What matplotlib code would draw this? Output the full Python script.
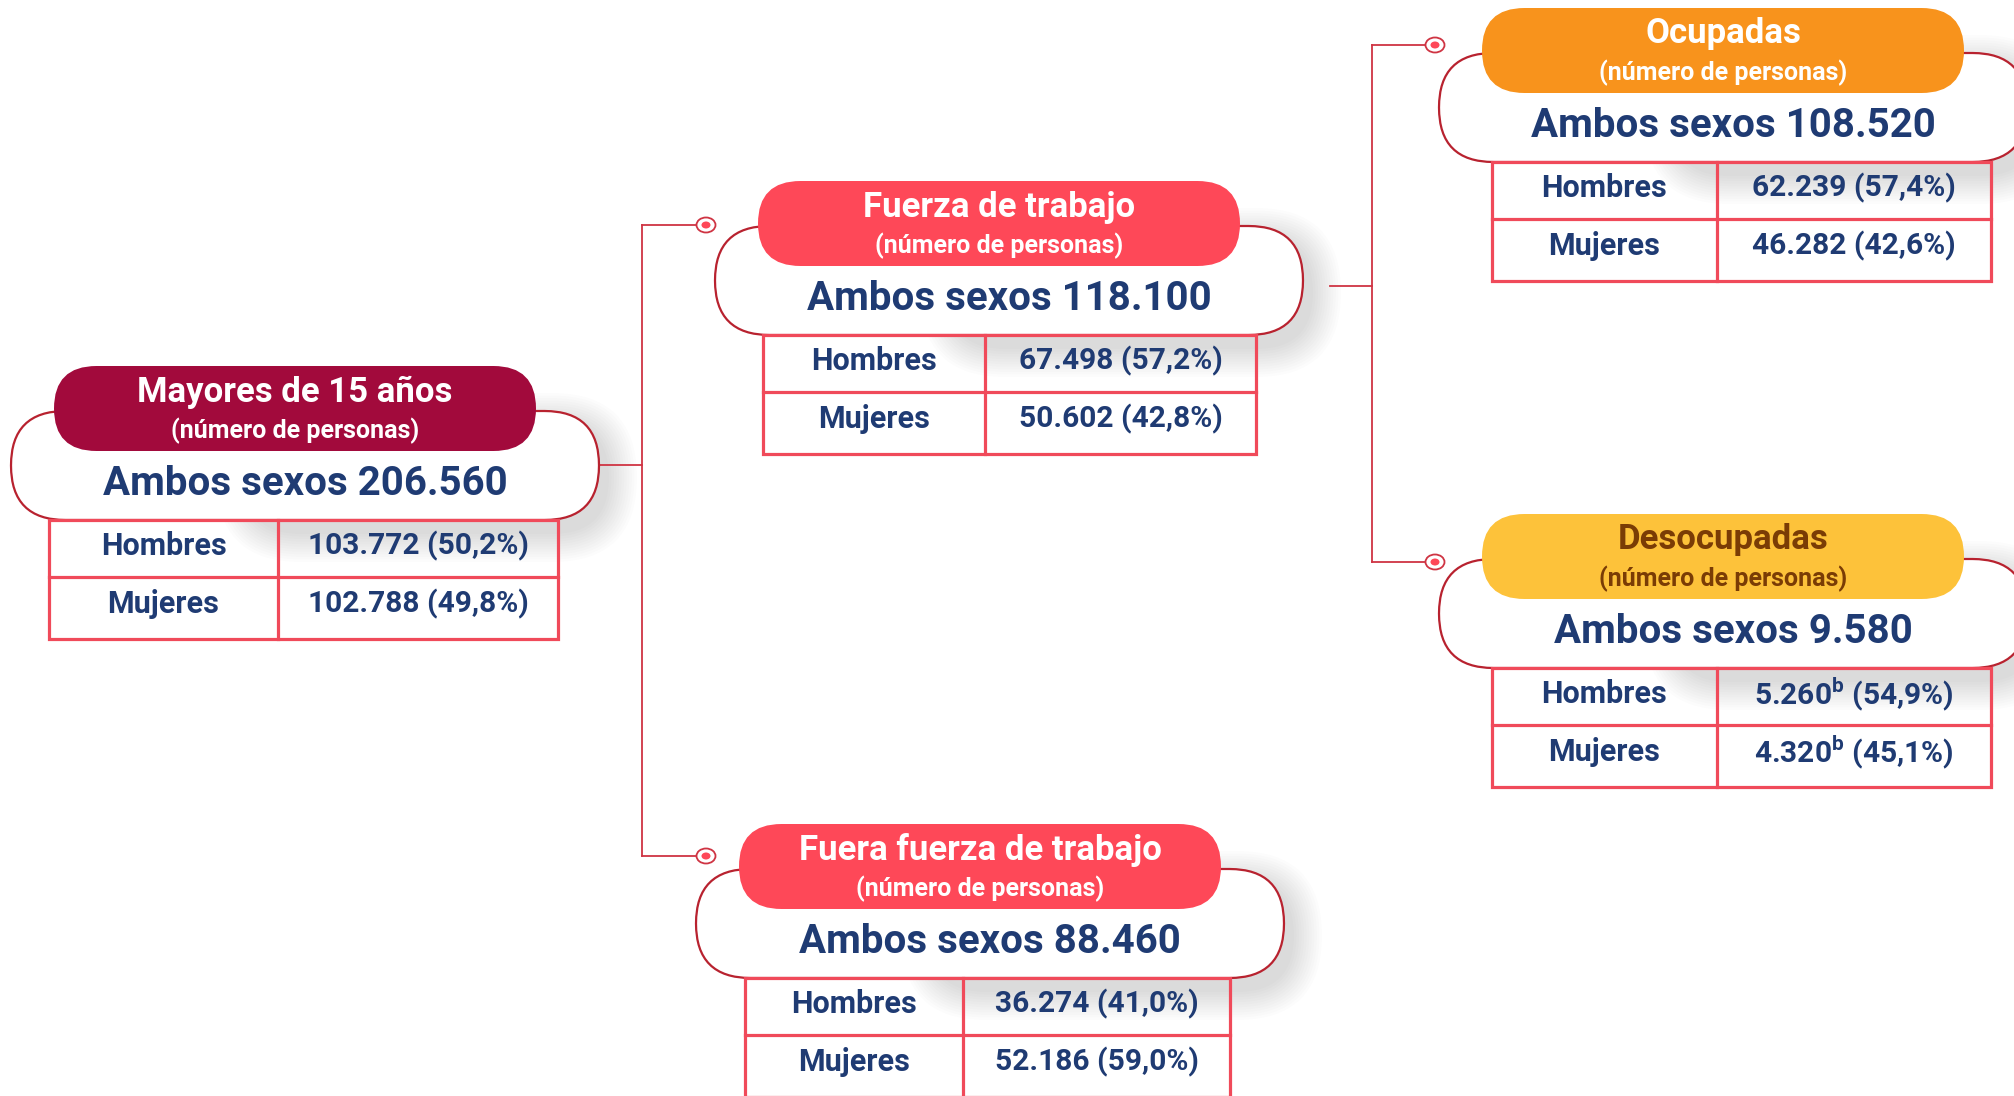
import numpy as np
import matplotlib.pyplot as plt
from matplotlib.patches import FancyBboxPatch, Rectangle, Ellipse

plt.rcParams['font.family'] = ['Roboto', 'DejaVu Sans']
plt.rcParams['mathtext.fontset'] = 'custom'
plt.rcParams['mathtext.rm'] = 'Roboto'
plt.rcParams['mathtext.bf'] = 'Roboto:bold'

# datos (número de personas)
titulos = ['Mayores de 15 años', 'Fuerza de trabajo', 'Ocupadas',
           'Desocupadas', 'Fuera fuerza de trabajo']
total = [206560, 118100, 108520, 9580, 88460]
hombres = [103772, 67498, 62239, 5260, 36274]
mujeres = [102788, 50602, 46282, 4320, 52186]
pct_h = [50.2, 57.2, 57.4, 54.9, 41.0]
pct_m = [49.8, 42.8, 42.6, 45.1, 59.0]
nota = ['', '', '', 'b', '']

# posicion de cada nodo (esquina sup. izq. de la etiqueta, en pixeles)
pill_x = [54, 758, 1482, 1482, 739]
pill_y = [366, 181, 8, 514, 824]
tab_x = [49, 763, 1492, 1492, 745]
tab_w = [509, 493, 499, 499, 485]
pill_col = ['#A20A3C', '#FE4858', '#F8931C', '#FDC23A', '#FE4858']
tit_col = ['white', 'white', 'white', '#7A3C05', 'white']

navy = '#1F3B73'
rojo = '#F04A5A'
borde = '#B8222F'
linea = '#CF3443'

PW, PH = 482, 85          # etiqueta
CW, CH = 588, 109         # capsula blanca
R1, R2 = 57, 62           # filas de la tabla


def miles(v):
    return f'{v:,}'.replace(',', '.')


def pct(p):
    return f'{p:.1f}'.replace('.', ',')


fig = plt.figure(figsize=(20.15, 10.96), dpi=100)
ax = fig.add_axes([0, 0, 1, 1])
ax.set_xlim(0, 2015)
ax.set_ylim(1096, 0)
ax.axis('off')

for i in range(len(titulos)):
    x, y = pill_x[i], pill_y[i]
    cx, cy = x - 43, y + 45

    # sombra difusa (hacia la derecha)
    sx = cx + 0.4*CW
    for g in np.linspace(2, 30, 12):
        ax.add_patch(FancyBboxPatch((sx, cy + 12), CW*0.6 + 8, CH,
                                    boxstyle=f'round,pad={g},rounding_size={CH/2+g}',
                                    fc='black', ec='none', alpha=0.011, zorder=1))

    ax.add_patch(FancyBboxPatch((cx, cy), CW, CH,
                                boxstyle=f'round,pad=0,rounding_size={CH/2}',
                                fc='white', ec=borde, lw=1.6, zorder=2))
    ax.add_patch(FancyBboxPatch((x, y), PW, PH,
                                boxstyle=f'round,pad=0,rounding_size={PH/2}',
                                fc=pill_col[i], ec='none', zorder=3))

    ax.text(x + PW/2, y + 26, titulos[i], color=tit_col[i], fontsize=25,
            fontweight='bold', ha='center', va='center', zorder=4)
    ax.text(x + PW/2, y + 65, '(número de personas)', color=tit_col[i],
            fontsize=18, fontweight='bold', ha='center', va='center', zorder=4)
    ax.text(cx + CW/2, y + 118, f'Ambos sexos {miles(total[i])}', color=navy,
            fontsize=29, fontweight='bold', ha='center', va='center', zorder=4)

    # tabla hombres / mujeres
    tx, ty, tw = tab_x[i], cy + CH, tab_w[i]
    dx = tx + 0.45*tw
    ax.add_patch(Rectangle((tx, ty), tw, R1 + R2, fc='none', ec=rojo, lw=2.3, zorder=3))
    ax.plot([dx, dx], [ty, ty + R1 + R2], color=rojo, lw=2.3, zorder=3)
    ax.plot([tx, tx + tw], [ty + R1, ty + R1], color=rojo, lw=2.3, zorder=3)

    sup = f'$^{{\\mathbf{{{nota[i]}}}}}$' if nota[i] else ''
    filas = [('Hombres', hombres[i], pct_h[i]), ('Mujeres', mujeres[i], pct_m[i])]
    for k, (lab, v, p) in enumerate(filas):
        yy = ty + 26 + k*58
        ax.text((tx + dx)/2, yy, lab, color=navy, fontsize=22,
                fontweight='bold', ha='center', va='center', zorder=4)
        ax.text((dx + tx + tw)/2, yy, f'{miles(v)}{sup} ({pct(p)}%)', color=navy,
                fontsize=21.5, fontweight='bold', ha='center', va='center', zorder=4)

# conectores
def rama(x0, x1, xv, ys, yc):
    ax.plot([x0, xv], [yc, yc], color=linea, lw=1.3, zorder=1.5)
    ax.plot([xv, xv], [min(ys), max(ys)], color=linea, lw=1.3, zorder=1.5)
    for yb in ys:
        ax.plot([xv, x1 - 9], [yb, yb], color=linea, lw=1.3, zorder=1.5)
        ax.add_patch(Ellipse((x1, yb), 19, 15, fc='white', ec=linea, lw=1.3, zorder=3))
        ax.add_patch(Ellipse((x1, yb), 9, 7, fc='#FE4858', ec='none', zorder=3))


rama(599, 706, 642, [225, 856], 465)
rama(1330, 1435, 1372, [45, 562], 286)

fig.savefig('out.png', dpi=100, facecolor='white')
